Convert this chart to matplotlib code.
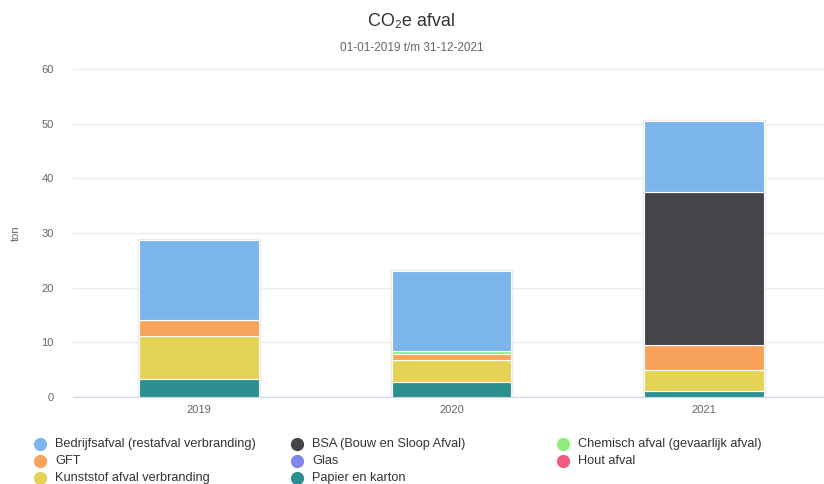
"""Stacked column chart: CO2e afval per jaar."""

import matplotlib
matplotlib.use("Agg")
import matplotlib.pyplot as plt
import numpy as np
from matplotlib.lines import Line2D

plt.rcParams["font.family"] = ["Liberation Sans", "DejaVu Sans"]

YEARS = ["2019", "2020", "2021"]

# series in legend order (first series is drawn on top of the stack)
SERIES_NAMES = [
    "Bedrijfsafval (restafval verbranding)",
    "BSA (Bouw en Sloop Afval)",
    "Chemisch afval (gevaarlijk afval)",
    "GFT",
    "Glas",
    "Hout afval",
    "Kunststof afval verbranding",
    "Papier en karton",
]
bedrijfsafval = [14.7, 14.6, 12.9]
bsa = [0.0, 0.0, 27.9]
chemisch = [0.0, 0.7, 0.0]
gft = [2.8, 1.1, 4.6]
glas = [0.0, 0.0, 0.0]
hout = [0.0, 0.0, 0.0]
kunststof = [7.9, 3.9, 3.9]
papier = [3.3, 2.8, 1.1]

SERIES_VALUES = [bedrijfsafval, bsa, chemisch, gft, glas, hout, kunststof, papier]
COLORS = ["#7cb5ec", "#434348", "#90ed7d", "#f7a35c",
          "#8085e9", "#f15c80", "#e4d354", "#2b908f"]

W, H = 824, 484
fig = plt.figure(figsize=(W / 100, H / 100), dpi=100)
ax = fig.add_axes([73 / W, (H - 397) / H, 757 / W, (397 - 69) / H])

x = np.arange(len(YEARS))
bar_w = 0.475

# soft shadow around each full stack
totals = np.sum(np.array(SERIES_VALUES), axis=0)
ax.bar(x, totals, width=bar_w, color="none", edgecolor="#ebebeb", linewidth=2.5, zorder=2)

bottom = np.zeros(len(YEARS))
for name, vals, col in reversed(list(zip(SERIES_NAMES, SERIES_VALUES, COLORS))):
    vals = np.array(vals)
    ax.bar(x, vals, width=bar_w, bottom=bottom, color=col, edgecolor="white",
           linewidth=0.8, zorder=3)
    bottom += vals

ax.set_xlim(-0.5, 2.5)
ax.set_ylim(0, 60)
ax.set_yticks(np.arange(0, 61, 10))
ax.set_xticks(x)
ax.set_xticklabels(YEARS)
ax.grid(axis="y", color="#ececec", linewidth=1, zorder=0)
ax.set_axisbelow(True)
for side in ["top", "right", "left"]:
    ax.spines[side].set_visible(False)
ax.spines["bottom"].set_color("#ccd6eb")
ax.tick_params(axis="y", length=0, labelsize=8, colors="#666666", pad=14)
ax.tick_params(axis="x", length=0, labelsize=8, colors="#666666", pad=6)
ax.set_ylabel("ton", fontsize=8, color="#666666")
ax.yaxis.set_label_coords(-52 / 757, 0.5)

fig.text(0.5, 1 - 22 / H, "CO₂e afval", ha="center", va="center", fontsize=13, color="#333333")
fig.text(0.5, 1 - 48 / H, "01-01-2019 t/m 31-12-2021", ha="center", va="center",
         fontsize=8.5, color="#666666")

# legend: three columns, row-wise order
col_x = [40, 297, 563]
row_y = [444, 461, 478]
for i, (name, col) in enumerate(zip(SERIES_NAMES, COLORS)):
    r, c = divmod(i, 3)
    mx, my = col_x[c] / W, 1 - row_y[r] / H
    fig.add_artist(Line2D([mx], [my], marker="o", markersize=8.5, color=col,
                          linestyle="None", transform=fig.transFigure))
    fig.text(mx + 15 / W, my, name, ha="left", va="center", fontsize=9.2, color="#333333")

fig.savefig("out.png", dpi=100)
